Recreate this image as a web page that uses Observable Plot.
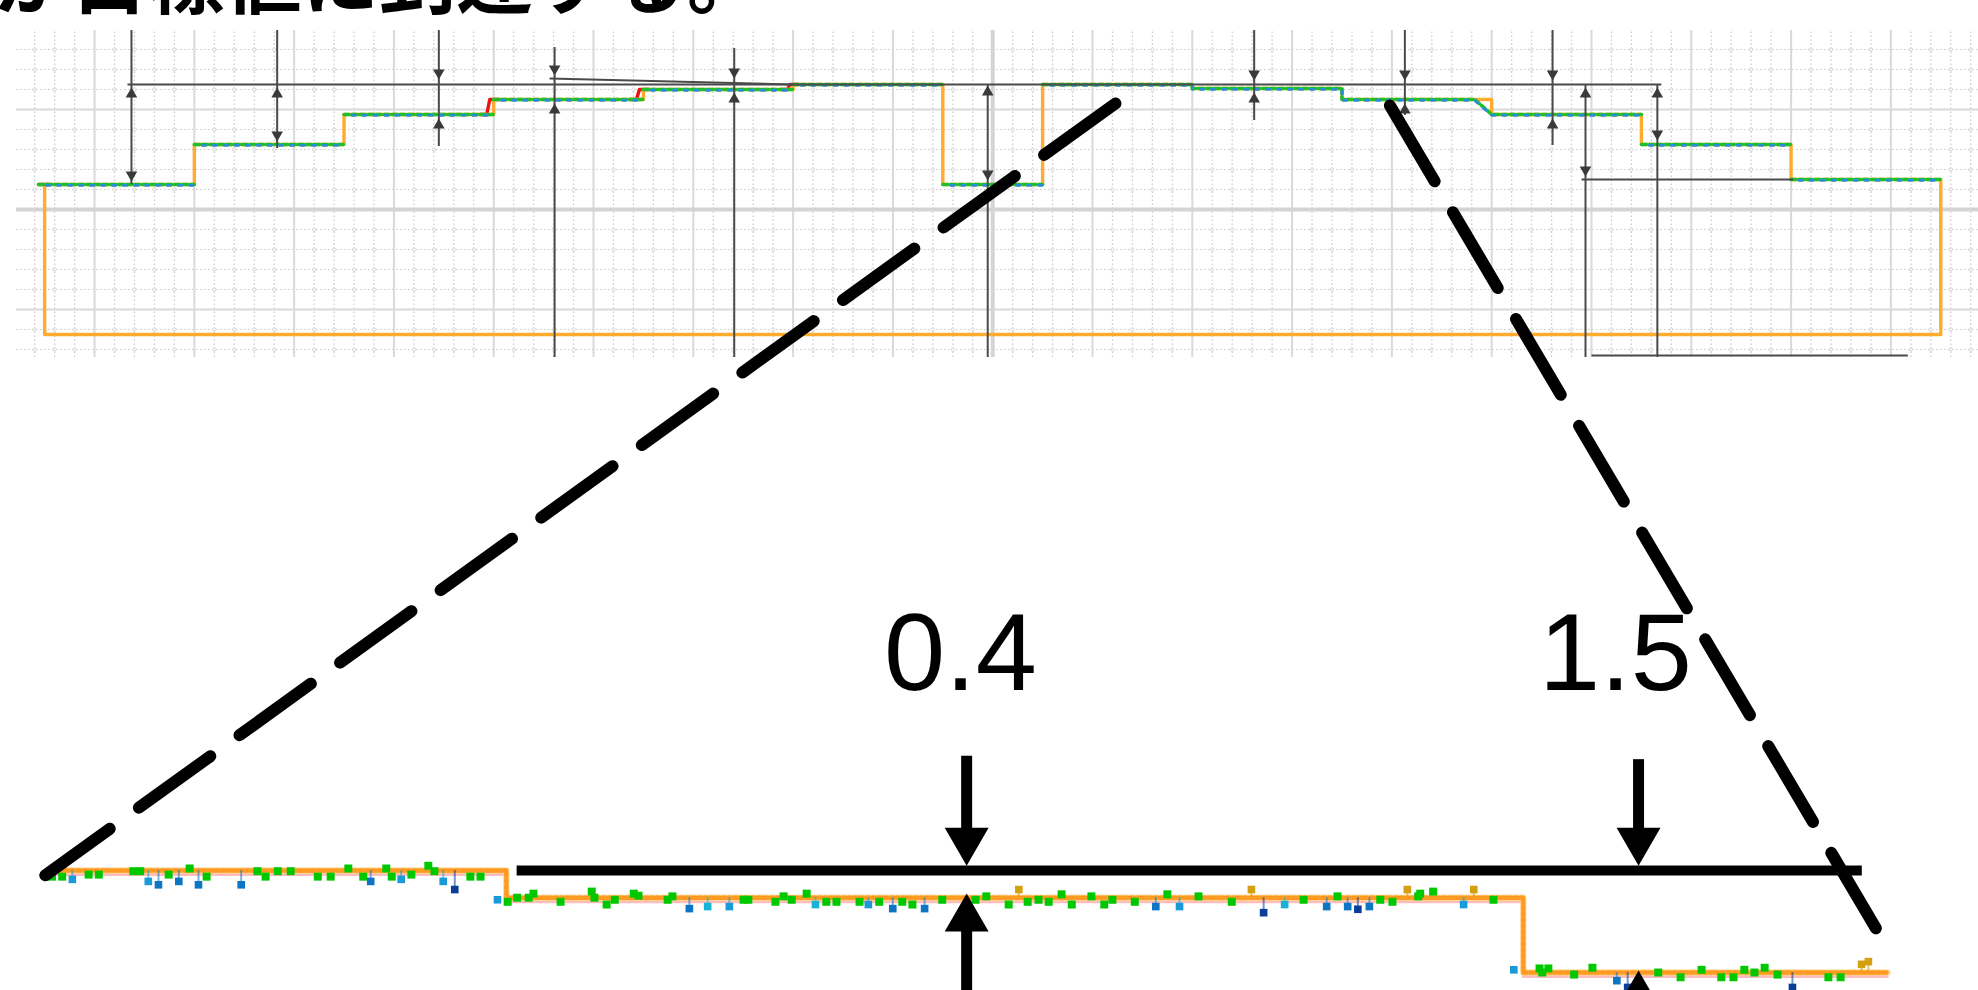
<!DOCTYPE html>
<html><head><meta charset="utf-8">
<script src="https://cdn.jsdelivr.net/npm/d3@7"></script>
<script src="https://cdn.jsdelivr.net/npm/@observablehq/plot@0.6"></script>
<style>
html,body{margin:0;padding:0;background:#fff;}
#page{position:relative;width:1978px;height:990px;overflow:hidden;background:#fff;}
#title{position:absolute;left:-6px;top:-64px;font-family:"Noto Sans CJK JP",sans-serif;font-weight:700;font-size:77px;line-height:77px;white-space:nowrap;color:#000;}
#top,#zoom,#overlay{position:absolute;left:0;}
#top{top:0px}#zoom{top:580px}#overlay{top:0px;pointer-events:none}
svg{overflow:visible}
</style></head>
<body><div id="page">
<div id="title">が目標値に到達する。</div>
<div id="top"></div><div id="zoom"></div><div id="overlay"></div>
</div>
<script>
// ================= DATA =================
// --- overview chart (units: 10 per major grid cell) ---
const stepEdges  = [-5, 10, 25, 40, 55, 70, 85, 95, 110, 125, 140, 155, 170, 185];
const stepLevels = [2.5, 6.5, 9.5, 11.0, 12.0, 12.5, 2.5, 12.5, 12.1, 11.0, 9.5, 6.5, 3.0];
const baseLevel  = -12.5;

const measuredX   = [-5.6, 10, 10, 25, 25, 40, 40, 55, 55, 70, 70, 85, 85, 95, 95, 110, 110, 125, 125, 138.3, 140, 155, 155, 170, 170, 185];
const measuredY   = [2.5, 2.5, 6.5, 6.5, 9.5, 9.5, 11, 11, 12, 12, 12.5, 12.5, 2.5, 2.5, 12.5, 12.5, 12.1, 12.1, 11, 11, 9.5, 9.5, 6.5, 6.5, 3, 3];
const measuredSeg = [0, 0, 1, 1, 2, 2, 3, 3, 4, 4, 5, 5, 6, 6, 7, 7, 7, 7, 7, 7, 7, 7, 8, 8, 9, 9];

const leadX   = [-5.6, -4.6, 38.6, 39.3, 39.6, 40.6, 53.6, 54.3, 54.6, 55.6, 68.8, 69.4, 69.7, 70.6];
const leadY   = [2.5, 2.5, 9.5, 9.5, 11, 11, 11, 11, 12, 12, 12, 12, 12.5, 12.5];
const leadSeg = [0, 0, 1, 1, 1, 1, 2, 2, 2, 2, 3, 3, 3, 3];

const dimU    = [3.7, 18.3, 34.5, 46.1, 64.1, 89.5, 116.2, 131.3, 146.1, 149.4, 156.6];
const dimFrom = [17.9, 17.9, 17.9, 16.2, 16.1, 12.5, 17.9, 17.9, 17.9, 12.5, 12.5];
const dimTo   = [2.5, 6.1, 6.3, -14.8, -14.8, -14.8, 8.9, 9.4, 6.4, -14.8, -14.8];
const headA    = [12.2, 12.2, 13.0, 13.4, 13.1, 12.4, 12.9, 12.9, 12.9, 12.2, 12.2];
const headADir = ["up", "up", "down", "down", "down", "up", "down", "down", "down", "up", "up"];
const headB    = [2.8, 6.8, 9.1, 10.6, 11.7, 2.9, 11.7, 10.6, 9.1, 3.3, 6.9];
const headBDir = ["down", "down", "up", "up", "up", "down", "up", "up", "up", "down", "down"];

const refX1 = [3.3, 45.6, 149, 150];
const refY1 = [12.5, 13.1, 3.0, -14.6];
const refX2 = [157.0, 70, 170.2, 181.7];
const refY2 = [12.5, 12.5, 3.0, -14.6];

// --- magnified detail (same units, 6.8x) ---
const zoomEdges  = [103.23, 110, 125, 130.37];
const zoomLevels = [12.5, 12.1, 11.0];

const greenU = [103.30,103.45,103.84,103.99,104.50,104.60,105.02,105.33,105.58,106.33,106.45,106.63,106.82,107.22,107.41,107.67,107.89,108.23,108.31,108.60,108.85,108.94,109.47,109.62,
  110.02,110.16,110.33,110.40,110.80,111.26,111.30,111.48,111.60,111.88,111.95,112.38,112.45,113.50,113.57,113.97,114.09,114.21,114.43,114.72,114.87,115.21,115.50,115.84,115.99,116.43,116.92,117.08,117.41,117.69,117.85,118.00,118.19,118.34,118.63,118.82,118.94,119.27,119.75,120.21,120.70,121.76,122.26,122.89,123.07,123.45,123.48,123.67,124.56,
  125.24,125.28,125.37,125.75,126.02,126.99,127.32,127.63,127.92,128.10,128.26,128.41,128.56,128.75,129.50,129.68];
const greenV = [12.41,12.41,12.44,12.44,12.49,12.49,12.44,12.53,12.41,12.49,12.41,12.49,12.49,12.41,12.41,12.53,12.41,12.53,12.41,12.44,12.57,12.49,12.41,12.41,
  12.04,12.10,12.10,12.16,12.04,12.19,12.10,12.00,12.07,12.16,12.13,12.07,12.12,12.07,12.07,12.04,12.12,12.07,12.16,12.04,12.04,12.04,12.04,12.04,12.00,12.07,12.07,12.12,12.00,12.04,12.07,12.04,12.15,12.00,12.12,12.00,12.07,12.04,12.15,12.12,12.04,12.07,12.12,12.07,12.04,12.12,12.16,12.19,12.07,
  11.06,11.00,11.06,10.97,11.07,11.00,10.93,11.04,10.93,10.93,11.04,11.00,11.07,10.97,10.93,10.93];

const blueU     = [103.60,104.72,104.87,105.17,105.46,106.09,108.00,108.45,109.07,109.24,109.87, 112.70,112.97,113.29,114.56,115.34,115.70,116.17,119.58,119.93,121.17,121.48,122.10,122.41,122.56,122.73,124.12, 124.86,126.38,126.54,128.97];
const blueV     = [12.37,12.34,12.29,12.34,12.29,12.29,12.34,12.37,12.34,12.22,12.07, 11.94,11.97,11.97,12.00,12.00,11.94,11.94,11.97,11.97,11.88,12.00,11.97,11.97,11.93,11.97,12.00, 11.04,10.88,10.78,10.78];
const blueFrom  = [12.5,12.5,12.5,12.5,12.5,12.5,12.5,12.5,12.5,12.5,12.07, 12.1,12.1,12.1,12.1,12.1,12.1,12.1,12.1,12.1,12.1,12.1,12.1,12.1,12.1,12.1,12.1, 11.04,11.0,11.0,11.0];
const blueShade = [0,0,1,1,1,1,1,0,0,2,0, 1,3,0,3,0,1,1,1,0,2,3,1,1,2,1,0, 0,1,2,2];

const goldU    = [117.56, 120.99, 123.29, 124.27, 129.99, 130.09];
const goldV    = [12.22, 12.22, 12.22, 12.22, 11.12, 11.16];
const goldFrom = [12.1, 12.1, 12.1, 12.1, 11.0, 11.0];

const refZoomX1 = 110.16, refZoomX2 = 130.0, refZoomY = 12.5;
const calloutLabels = ["0.4", "1.5"];
const calloutLabelU = [116.70, 126.36];
const calloutLabelV = [15.16, 15.16];
const calloutU      = [116.79, 126.70];
const calloutTopV   = [14.18, 14.13];
const calloutDownTip = [12.57, 12.57];
const calloutUpTip   = [12.16, 11.03];

// connectors: overview point -> detail point
const connTopU = [102.3, 129.8], connTopV = [10.6, 10.4];
const connZoomU = [103.2, 130.2], connZoomV = [12.43, 11.65];

// ================= BUILD =================
const orangePts = [];
stepLevels.forEach((l, i) => { orangePts.push({x: stepEdges[i], y: l}); orangePts.push({x: stepEdges[i + 1], y: l}); });
orangePts.push({x: 185, y: baseLevel}, {x: -5, y: baseLevel}, {x: -5, y: stepLevels[0]});
const measured = measuredX.map((x, i) => ({x, y: measuredY[i], seg: measuredSeg[i]}));
const lead = leadX.map((x, i) => ({x, y: leadY[i], seg: leadSeg[i]}));
const dims = dimU.map((u, i) => ({u, from: dimFrom[i], to: dimTo[i]}));
const heads = [];
dimU.forEach((u, i) => { heads.push({u, v: headA[i], dir: headADir[i]}); heads.push({u, v: headB[i], dir: headBDir[i]}); });
const refs = refX1.map((x1, i) => ({x1, y1: refY1[i], x2: refX2[i], y2: refY2[i]}));

const XMIN = -7.82, XMAX = 188.78, YMIN = -14.8, YMAX = 17.9;
const minorU = d3.range(-6, 189, 2).filter(u => u % 10 !== 0);
const minorV = d3.range(-14, 18, 2).filter(v => v % 10 !== 0);
const majorU = d3.range(0, 189, 10).filter(u => u !== 90);
const nodes = [];
minorU.forEach(u => minorV.forEach(v => nodes.push({u, v})));

const smallR = 4.3, smallTip = 6.6;
const topPlot = Plot.plot({
  width: 1978, height: 360, marginTop: 30, marginBottom: 3, marginLeft: 16, marginRight: 0,
  x: {domain: [XMIN, XMAX], axis: null},
  y: {domain: [YMIN, YMAX], axis: null},
  style: {background: "transparent"},
  marks: [
    Plot.ruleX(minorU, {y1: YMIN, y2: YMAX, stroke: "#c9c9c9", strokeWidth: 1.2, strokeDasharray: "1.5,2.5"}),
    Plot.ruleY(minorV, {x1: XMIN, x2: XMAX, stroke: "#c9c9c9", strokeWidth: 1.2, strokeDasharray: "1.5,2.5"}),
    Plot.dot(nodes, {x: "u", y: "v", r: 1.6, stroke: "#cfcfcf", fill: "#fff", strokeWidth: 0.9}),
    Plot.ruleX(majorU, {y1: YMIN, y2: YMAX, stroke: "#d9d9d9", strokeWidth: 2}),
    Plot.ruleY([10, -10], {x1: XMIN, x2: XMAX, stroke: "#d9d9d9", strokeWidth: 2}),
    Plot.ruleX([90], {y1: YMIN, y2: YMAX, stroke: "#d4d4d4", strokeWidth: 4}),
    Plot.ruleY([0], {x1: XMIN, x2: XMAX, stroke: "#d4d4d4", strokeWidth: 4}),
    Plot.line(lead, {x: "x", y: "y", z: "seg", stroke: "#ee1010", strokeWidth: 3.4}),
    Plot.line(orangePts, {x: "x", y: "y", stroke: "#ffab30", strokeWidth: 3.4}),
    Plot.line(measured, {x: "x", y: "y", z: "seg", stroke: "#1fc02a", strokeWidth: 3.6, strokeDasharray: "5,3"}),
    Plot.line(measured, {x: "x", y: "y", z: "seg", stroke: "#2a8ed6", strokeWidth: 3, strokeDasharray: "3,8", strokeDashoffset: 3, dy: 0.8}),
    Plot.ruleX(dims, {x: "u", y1: "from", y2: "to", stroke: "#4a4a4a", strokeWidth: 2}),
    Plot.link(refs, {x1: "x1", y1: "y1", x2: "x2", y2: "y2", stroke: "#4a4a4a", strokeWidth: 2}),
    Plot.dot(heads.filter(d => d.dir === "up"), {x: "u", y: "v", symbol: "triangle", r: smallR, fill: "#3a3a3a", stroke: "none", dy: smallTip}),
    Plot.dot(heads.filter(d => d.dir === "down"), {x: "u", y: "v", symbol: "triangle", r: smallR, fill: "#3a3a3a", stroke: "none", rotate: 180, dy: -smallTip})
  ]
});
document.getElementById("top").append(topPlot);

// ---- detail chart ----
const zoomPts = [];
zoomLevels.forEach((l, i) => { zoomPts.push({x: zoomEdges[i], y: l}); zoomPts.push({x: zoomEdges[i + 1], y: l}); });
const green = greenU.map((u, i) => ({u, v: greenV[i]}));
const bluePalette = ["#1b9ad8", "#0e74c4", "#0a3f98", "#17b2d6"];
const blue = blueU.map((u, i) => ({u, v: blueV[i], from: blueFrom[i], c: bluePalette[blueShade[i]]}));
const gold = goldU.map((u, i) => ({u, v: goldV[i], from: goldFrom[i]}));
const ZX0 = 102.54, ZPX = 67.8, ZPY = 68, ZH = 410;
const ZYMAX = 16.765, ZYMIN = ZYMAX - ZH / ZPY;
const bigTip = 25.3, shaftInset = 0.37;
const callouts = calloutU.map((u, i) => ({u, top: calloutTopV[i], down: calloutDownTip[i], up: calloutUpTip[i], label: calloutLabels[i], lu: calloutLabelU[i], lv: calloutLabelV[i]}));

const zoomPlot = Plot.plot({
  width: 1978, height: ZH, margin: 0,
  x: {domain: [ZX0, ZX0 + 1978 / ZPX], axis: null},
  y: {domain: [ZYMIN, ZYMAX], axis: null},
  style: {background: "transparent"},
  marks: [
    Plot.line(zoomPts, {x: "x", y: "y", stroke: "#ffbcbc", strokeWidth: 3, strokeDasharray: "2,2", dy: 4}),
    Plot.line(zoomPts, {x: "x", y: "y", stroke: "#ffcf80", strokeWidth: 6}),
    Plot.line(zoomPts, {x: "x", y: "y", stroke: "#ff9a22", strokeWidth: 4.5, strokeDasharray: "3,3"}),
    Plot.ruleX(blue.filter(d => d.from !== d.v), {x: "u", y1: "from", y2: "v", stroke: "c", strokeWidth: 2, strokeOpacity: 0.55}),
    Plot.ruleX(gold, {x: "u", y1: "from", y2: "v", stroke: "#d4a010", strokeWidth: 2, strokeOpacity: 0.6}),
    Plot.dot(green, {x: "u", y: "v", symbol: "square", r: 4.5, fill: "#00c800"}),
    Plot.dot(blue, {x: "u", y: "v", symbol: "square", r: 4.3, fill: "c"}),
    Plot.dot(gold, {x: "u", y: "v", symbol: "square", r: 4.3, fill: "#d4a010"}),
    Plot.ruleY([refZoomY], {x1: refZoomX1, x2: refZoomX2, stroke: "#000", strokeWidth: 10}),
    Plot.ruleX(callouts, {x: "u", y1: "top", y2: d => d.down + shaftInset, stroke: "#000", strokeWidth: 11}),
    Plot.ruleX(callouts, {x: "u", y1: d => d.up - shaftInset, y2: ZYMIN, stroke: "#000", strokeWidth: 11}),
    Plot.dot(callouts, {x: "u", y: "down", symbol: "triangle", r: 16.3, fill: "#000", stroke: "none", rotate: 180, dy: -bigTip}),
    Plot.dot(callouts, {x: "u", y: "up", symbol: "triangle", r: 16.3, fill: "#000", stroke: "none", dy: bigTip}),
    Plot.text(callouts, {x: "lu", y: "lv", text: "label", fontSize: 110, fontFamily: "'Liberation Sans', Arial, sans-serif", fill: "#000", textAnchor: "middle", lineAnchor: "bottom"})
  ]
});
document.getElementById("zoom").append(zoomPlot);

// ---- dashed connectors (positions from both charts' scales) ----
const tx = topPlot.scale("x"), ty = topPlot.scale("y");
const zx = zoomPlot.scale("x"), zy = zoomPlot.scale("y");
const zoomTop = 580;
const conn = [];
connTopU.forEach((u, i) => {
  conn.push({k: i, x: tx.apply(u), y: ty.apply(connTopV[i])});
  conn.push({k: i, x: zx.apply(connZoomU[i]), y: zy.apply(connZoomV[i]) + zoomTop});
});
const overlay = Plot.plot({
  width: 1978, height: 990, margin: 0,
  x: {domain: [0, 1978], range: [0, 1978], axis: null},
  y: {domain: [0, 990], range: [0, 990], axis: null},
  style: {background: "transparent"},
  marks: [Plot.line(conn, {x: "x", y: "y", z: "k", stroke: "#000", strokeWidth: 12, strokeDasharray: "88,36"})]
});
document.getElementById("overlay").append(overlay);
</script>
</body></html>
